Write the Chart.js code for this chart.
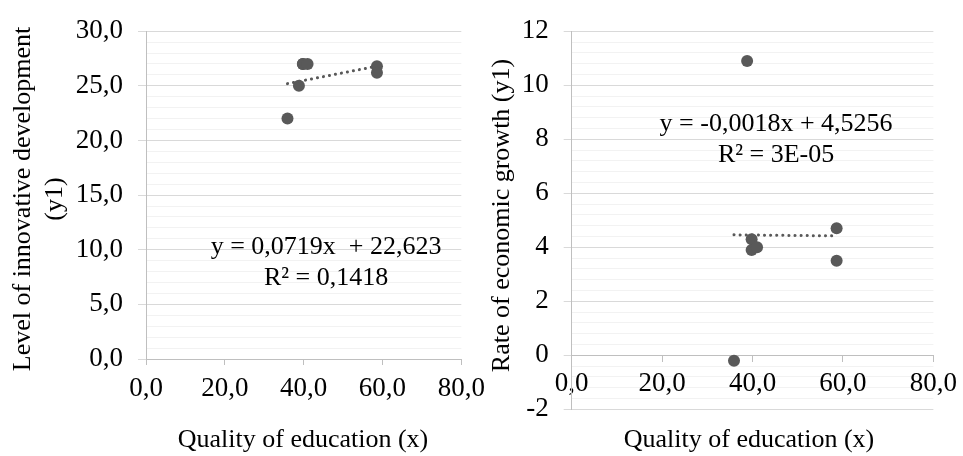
<!DOCTYPE html>
<html lang="en">
<head>
    <meta charset="UTF-8">
    <title>Quality of education vs innovation and growth</title>
    <script src="https://cdn.jsdelivr.net/npm/chart.js"></script>
    <style>
        body {
            margin: 0;
            padding: 0;
            background-color: #ffffff;
        }
        .wrap {
            position: relative;
            width: 963px;
            height: 456px;
        }
        .wrap canvas {
            position: absolute;
            left: 0;
            top: 0;
        }
    </style>
</head>
<body>
    <div class="wrap">
        <canvas id="innovChart" width="963" height="456"></canvas>
        <canvas id="growthChart" width="963" height="456"></canvas>
    </div>
    <script>
        // values
        const education = [35.9, 38.8, 39.8, 39.8, 41.0, 58.6, 58.6];
        const innovation = [22.0, 25.0, 27.0, 27.0, 27.0, 26.8, 26.2];
        const growth = [-0.2, 10.9, 4.3, 3.9, 4.0, 4.7, 3.5];

        // trend line ends
        const trendX = [35.9, 58.6];
        const innovTrend = [25.2, 26.8];
        const growthTrend = [4.46, 4.42];

        const xTickLabels = ['0,0', '20,0', '40,0', '60,0', '80,0'];
        const innovTickLabels = ['0,0', '5,0', '10,0', '15,0', '20,0', '25,0', '30,0'];
        const growthTickLabels = ['-2', '0', '2', '4', '6', '8', '10', '12'];

        const innovEquation = ['y = 0,0719x  + 22,623', 'R² = 0,1418'];
        const growthEquation = ['y = -0,0018x + 4,5256', 'R² = 3E-05'];

        const serif = '"Liberation Serif", "Times New Roman", serif';
        const pointColor = '#595959';

        function points(xs, ys) {
            return xs.map((x, i) => ({ x: x, y: ys[i] }));
        }

        function datasets(ys, trend) {
            return [
                {
                    data: points(trendX, trend),
                    showLine: true,
                    borderColor: pointColor,
                    borderWidth: 3,
                    borderDash: [0.1, 6],
                    borderCapStyle: 'round',
                    pointRadius: 0,
                },
                {
                    data: points(education, ys),
                    backgroundColor: pointColor,
                    borderWidth: 0,
                    pointRadius: 6,
                },
            ];
        }

        function yScale(min, max, major, minor, labels, width) {
            const isMajor = v => Math.abs(v / major - Math.round(v / major)) < 1e-6;
            return {
                type: 'linear',
                position: 'left',
                min: min,
                max: max,
                afterFit: s => { s.width = width; },
                ticks: {
                    stepSize: minor,
                    autoSkip: false,
                    padding: 15,
                    color: '#000000',
                    font: { family: serif, size: 27 },
                    callback: v => isMajor(v) ? labels[Math.round((v - min) / major)] : '',
                },
                grid: {
                    color: c => isMajor(c.tick.value) ? '#d9d9d9' : '#f2f2f2',
                    tickColor: c => isMajor(c.tick.value) ? '#d9d9d9' : 'rgba(0,0,0,0)',
                    tickLength: 8,
                },
                border: { color: '#bfbfbf' },
            };
        }

        function xScale(position, padding) {
            return {
                type: 'linear',
                position: position,
                min: 0,
                max: 80,
                afterFit: s => { s.height = 97; },
                ticks: {
                    stepSize: 20,
                    padding: padding,
                    color: '#000000',
                    font: { family: serif, size: 27 },
                    callback: v => xTickLabels[Math.round(v / 20)],
                },
                grid: { drawOnChartArea: false, color: '#bfbfbf', tickLength: 6 },
                border: { color: '#bfbfbf' },
            };
        }

        // axis titles and trend equations
        function textPlugin(cfg) {
            return {
                id: 'chartText',
                afterDraw(chart) {
                    const { ctx, scales: { x, y } } = chart;
                    ctx.save();
                    ctx.fillStyle = '#000000';
                    ctx.font = '26px ' + serif;
                    ctx.textAlign = 'center';
                    ctx.textBaseline = 'middle';
                    ctx.fillText(cfg.xTitle, cfg.xTitlePos[0], cfg.xTitlePos[1]);
                    cfg.yTitle.forEach((line, i) => {
                        ctx.save();
                        ctx.translate(cfg.yTitlePos[0] + i * 32, cfg.yTitlePos[1]);
                        ctx.rotate(-Math.PI / 2);
                        ctx.fillText(line, 0, 0);
                        ctx.restore();
                    });
                    const ex = x.getPixelForValue(cfg.eqAt[0]);
                    const ey = y.getPixelForValue(cfg.eqAt[1]);
                    cfg.equation.forEach((line, i) => ctx.fillText(line, ex, ey + i * 31));
                    ctx.restore();
                }
            };
        }

        const common = {
            responsive: false,
            animation: false,
            devicePixelRatio: 1,
            plugins: { legend: { display: false }, tooltip: { enabled: false } },
        };

        new Chart(document.getElementById('innovChart'), {
            type: 'scatter',
            data: { datasets: datasets(innovation, innovTrend) },
            options: Object.assign({}, common, {
                layout: { padding: { left: 0, top: 20, right: 501.7, bottom: 0 } },
                scales: {
                    x: xScale('bottom', 8),
                    y: yScale(0, 30, 5, 1, innovTickLabels, 146),
                },
            }),
            plugins: [textPlugin({
                xTitle: 'Quality of education (x)',
                xTitlePos: [303, 440],
                yTitle: ['Level of innovative development', '(y1)'],
                yTitlePos: [23, 199],
                equation: innovEquation,
                eqAt: [45.7, 10.2],
            })],
        });

        new Chart(document.getElementById('growthChart'), {
            type: 'scatter',
            data: { datasets: datasets(growth, growthTrend) },
            options: Object.assign({}, common, {
                layout: { padding: { left: 481.7, top: 22.7, right: 25.7, bottom: 46.7 } },
                scales: {
                    x: xScale({ y: 0 }, 6),
                    y: yScale(-2, 12, 2, 0.4, growthTickLabels, 90),
                },
            }),
            plugins: [textPlugin({
                xTitle: 'Quality of education (x)',
                xTitlePos: [749, 440],
                yTitle: ['Rate of economic growth (y1)'],
                yTitlePos: [501.7, 215.5],
                equation: growthEquation,
                eqAt: [45.2, 8.55],
            })],
        });
    </script>
</body>
</html>
